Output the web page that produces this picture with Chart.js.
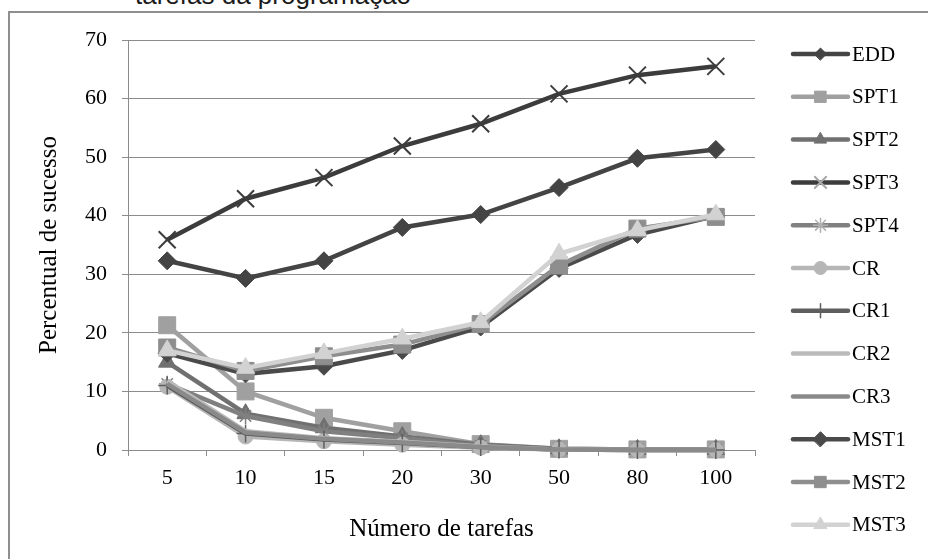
<!DOCTYPE html>
<html>
<head>
<meta charset="utf-8">
<script src="https://cdn.jsdelivr.net/npm/chart.js@4/dist/chart.umd.min.js"></script>
<style>
  html, body { margin: 0; padding: 0; background: #fff; }
  body { width: 928px; height: 559px; position: relative; overflow: hidden; }
  #frame { position: absolute; left: 8px; top: 11px; width: 940px; height: 580px;
           border-left: 2px solid #8f8f8f; border-top: 2px solid #8f8f8f; box-sizing: border-box; }
  #caption { position: absolute; left: 135px; top: -18px; font-family: "Liberation Sans", Arial, sans-serif;
             font-size: 26px; line-height: 26px; color: #1a1a1a; white-space: nowrap; }
  #wrap { position: absolute; left: 0; top: 0; width: 928px; height: 559px; }
</style>
</head>
<body>
<div id="frame"></div>
<div id="caption">tarefas da programação</div>
<div id="wrap"><canvas id="c" width="928" height="559"></canvas></div>
<script>
// Number of tasks (categories)
const categories = ['5', '10', '15', '20', '30', '50', '80', '100'];

// Success percentage per heuristic
const EDD  = [32.3, 29.3, 32.3, 38.0, 40.2, 44.8, 49.8, 51.3];
const SPT1 = [21.3, 10.0, 5.5, 3.2, 1.0, 0.2, 0.1, 0.1];
const SPT2 = [15.0, 6.2, 3.8, 2.3, 0.9, 0.2, 0.1, 0.1];
const SPT3 = [35.9, 42.9, 46.5, 51.9, 55.7, 60.8, 64.0, 65.5];
const SPT4 = [11.3, 5.8, 3.2, 2.0, 0.7, 0.1, 0.1, 0.1];
const CR   = [10.8, 2.3, 1.5, 0.9, 0.4, 0.1, 0.0, 0.0];
const CR1  = [11.0, 2.8, 1.8, 1.2, 0.5, 0.1, 0.0, 0.0];
const CR2  = [11.8, 3.2, 2.0, 1.4, 0.6, 0.1, 0.0, 0.0];
const CR3  = [11.3, 3.0, 1.9, 1.3, 0.5, 0.1, 0.0, 0.0];
const MST1 = [16.5, 13.0, 14.3, 17.0, 21.0, 31.0, 36.8, 40.0];
const MST2 = [17.5, 13.5, 16.0, 18.0, 21.5, 31.5, 37.8, 39.8];
const MST3 = [17.0, 14.0, 16.5, 19.0, 21.8, 33.5, 37.5, 40.2];

// Y axis ticks
const yTicks = [0, 10, 20, 30, 40, 50, 60, 70];

const seriesNames = ['EDD', 'SPT1', 'SPT2', 'SPT3', 'SPT4', 'CR', 'CR1', 'CR2', 'CR3', 'MST1', 'MST2', 'MST3'];
const seriesData  = [EDD, SPT1, SPT2, SPT3, SPT4, CR, CR1, CR2, CR3, MST1, MST2, MST3];

// Line colour, marker shape, marker radius (plot / legend), marker stroke
const styles = [
  { color: '#444444', marker: 'rectRot',   r: 9,  lr: 6,   bw: 1 },
  { color: '#a0a0a0', marker: 'rect',      r: 12, lr: 8,   bw: 1 },
  { color: '#707070', marker: 'triangle',  r: 10, lr: 7,   bw: 1 },
  { color: '#3c3c3c', marker: 'crossRot',  r: 12, lr: 8,   bw: 2, mcolor: '#3c3c3c', lmcolor: '#a8a8a8' },
  { color: '#808080', marker: 'star',      r: 8,  lr: 7,   bw: 1.5, lmcolor: '#b0b0b0' },
  { color: '#b6b6b6', marker: 'circle',    r: 7.5, lr: 6.5, bw: 1 },
  { color: '#5e5e5e', marker: 'cross',     r: 9,  lr: 7,   bw: 1.5 },
  { color: '#bababa', marker: false,       r: 0,  lr: 0,   bw: 0 },
  { color: '#8a8a8a', marker: false,       r: 0,  lr: 0,   bw: 0 },
  { color: '#4a4a4a', marker: 'rectRot',   r: 9,  lr: 7.5, bw: 1 },
  { color: '#8e8e8e', marker: 'rect',      r: 12, lr: 8,   bw: 1 },
  { color: '#d2d2d2', marker: 'triangle',  r: 10.5, lr: 7.5, bw: 1 }
];

const serif = "'Liberation Serif', 'Times New Roman', serif";

const datasets = seriesNames.map((name, i) => {
  const s = styles[i];
  const mc = s.mcolor || s.color;
  return {
    label: name,
    data: seriesData[i],
    borderColor: s.color,
    borderWidth: 4.5,
    backgroundColor: mc,
    pointStyle: s.marker,
    pointRadius: s.marker ? s.r : 0,
    pointHoverRadius: s.marker ? s.r : 0,
    pointBackgroundColor: mc,
    pointBorderColor: mc,
    pointBorderWidth: s.bw,
    tension: 0,
    fill: false,
    clip: false,
    order: seriesNames.length - 1 - i
  };
});

// Legend on the right: line sample with the series marker in its middle
const sideLegend = {
  id: 'sideLegend',
  afterDraw(chart) {
    const ctx = chart.ctx;
    const x0 = 793, x1 = 848, top = 54, step = 42.8;
    ctx.save();
    chart.data.datasets.forEach((ds, i) => {
      const s = styles[i];
      const y = top + i * step;
      ctx.strokeStyle = ds.borderColor;
      ctx.lineWidth = 4.5;
      ctx.lineCap = 'round';
      ctx.beginPath();
      ctx.moveTo(x0, y);
      ctx.lineTo(x1, y);
      ctx.stroke();
      if (s.marker) {
        const mc = s.lmcolor || ds.pointBackgroundColor;
        ctx.fillStyle = mc;
        ctx.strokeStyle = mc;
        ctx.lineWidth = s.bw;
        Chart.helpers.drawPoint(ctx, { pointStyle: s.marker, radius: s.lr, rotation: 0, borderWidth: s.bw }, (x0 + x1) / 2, y);
      }
      ctx.fillStyle = '#000';
      ctx.font = '21px ' + serif;
      ctx.textAlign = 'left';
      ctx.textBaseline = 'middle';
      ctx.fillText(ds.label, x1 + 4, y + 1);
    });
    ctx.restore();
  }
};

new Chart(document.getElementById('c'), {
  type: 'line',
  data: { labels: categories, datasets },
  options: {
    responsive: false,
    animation: false,
    events: [],
    layout: { padding: { left: 0, top: 40, right: 173, bottom: 0 } },
    plugins: { legend: { display: false }, tooltip: { enabled: false } },
    scales: {
      x: {
        offset: true,
        grid: { offset: true, drawOnChartArea: false, color: '#8c8c8c', tickLength: 6, tickColor: '#8c8c8c' },
        border: { color: '#8c8c8c', width: 1 },
        ticks: { color: '#000', font: { family: serif, size: 22 }, padding: 9, maxRotation: 0, autoSkip: false },
        title: { display: true, text: 'Número de tarefas', color: '#000', font: { family: serif, size: 25 }, padding: { top: 0, bottom: 15 } },
        afterFit(scale) { scale.height = 109; }
      },
      y: {
        min: 0, max: 70,
        afterBuildTicks(scale) { scale.ticks = yTicks.map(v => ({ value: v })); },
        grid: { color: '#8c8c8c', tickLength: 6, lineWidth: 1 },
        border: { color: '#8c8c8c', width: 1 },
        ticks: { color: '#000', font: { family: serif, size: 22 }, padding: 15 },
        title: { display: true, text: 'Percentual de sucesso', color: '#000', font: { family: serif, size: 25 }, padding: { top: 34, bottom: 0 } },
        afterFit(scale) { scale.width = 128; }
      }
    }
  },
  plugins: [sideLegend]
});
</script>
</body>
</html>
